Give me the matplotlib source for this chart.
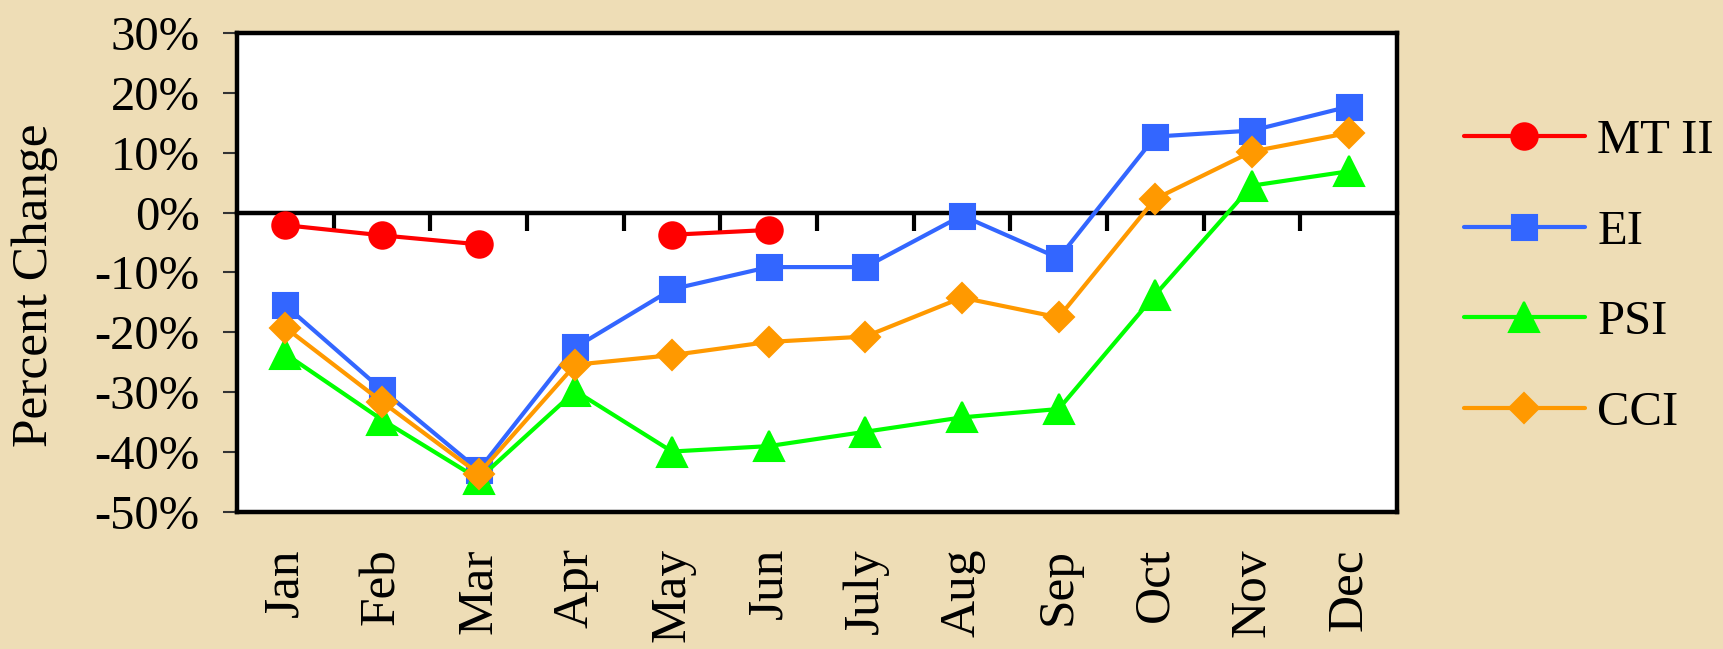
import numpy as np
import matplotlib
matplotlib.use("Agg")
import matplotlib.pyplot as plt

months = ["Jan", "Feb", "Mar", "Apr", "May", "Jun", "July", "Aug", "Sep", "Oct", "Nov", "Dec"]
mtii = [-2.1, -3.8, -5.3, np.nan, -3.7, -2.9, np.nan, np.nan, np.nan, np.nan, np.nan, np.nan]
ei = [-15.5, -29.6, -43.0, -22.5, -12.8, -9.1, -9.1, -0.5, -7.6, 12.7, 13.7, 17.7]
psi = [-23.6, -34.6, -44.5, -29.8, -39.9, -39.0, -36.6, -34.2, -32.8, -13.7, 4.5, 6.9]
cci = [-19.2, -31.6, -43.6, -25.4, -23.8, -21.6, -20.7, -14.2, -17.5, 2.3, 10.2, 13.3]
yticks = [30, 20, 10, 0, -10, -20, -30, -40, -50]
ytick_labels = ["30%", "20%", "10%", "0%", "-10%", "-20%", "-30%", "-40%", "-50%"]

plt.rcParams['font.family'] = ['Liberation Serif', 'DejaVu Serif']

bg = "#EEDDB6"
fig = plt.figure(figsize=(17.24, 6.49), dpi=100, facecolor=bg)
ax = fig.add_axes([0.1375, 0.2111, 0.8103 - 0.1375, 0.9492 - 0.2111])
ax.set_facecolor("white")

x = np.arange(len(months))
series = [
    ("MT II", mtii, "#FF0000", "o", 19),
    ("EI", ei, "#3366FF", "s", 18),
    ("PSI", psi, "#00FF00", "^", 22),
    ("CCI", cci, "#FF9900", "D", 15),
]
for name, vals, col, mk, ms in series:
    ax.plot(x, vals, color=col, lw=3, marker=mk, markersize=ms,
            markeredgecolor=col, markeredgewidth=1.5, label=name,
            solid_joinstyle='round', solid_capstyle='round', clip_on=False, zorder=3)

ax.set_xlim(-0.5, len(months) - 0.5)
ax.set_ylim(-50, 30)

for s in ["top", "left", "right", "bottom"]:
    ax.spines[s].set_linewidth(3.2)
ax.spines["bottom"].set_position(("data", 0))
ax.spines["bottom"].set_zorder(2.5)

ax.set_xticks(x[:-1] + 0.5)
ax.set_xticklabels([])
ax.tick_params(axis="x", direction="out", length=13, width=3, color="black")

ax.set_yticks(yticks)
ax.set_yticklabels(ytick_labels)
ax.tick_params(axis="y", direction="out", length=10, width=1.5, pad=17, labelsize=35, color="#333333")

sec = ax.secondary_xaxis(0)
sec.set_xticks(x)
sec.set_xticklabels(months, rotation=90, va="top", fontsize=37)
sec.tick_params(axis="x", length=0, pad=26)
sec.spines["bottom"].set_linewidth(3.2)

fig.text(0.0203, 0.561, "Percent Change", rotation=90, ha="center", va="center", fontsize=37)

leg = fig.legend(loc="center left", bbox_to_anchor=(0.849, 0.573), frameon=False,
                 fontsize=35, handlelength=2.5, handletextpad=0.25, labelspacing=0.96,
                 borderpad=0, borderaxespad=0)

fig.savefig("out.png", dpi=100, facecolor=bg)
